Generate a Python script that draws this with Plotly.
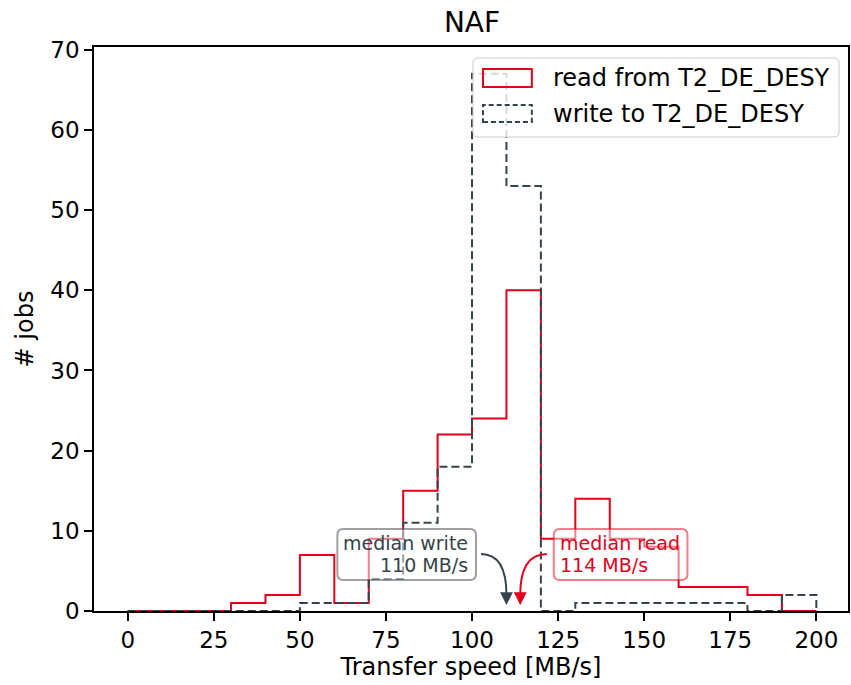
import plotly.graph_objects as go

# ---- data ----
bin_edges = [0, 10, 20, 30, 40, 50, 60, 70, 80, 90, 100, 110, 120, 130, 140, 150, 160, 170, 180, 190, 200]
read_counts = [0, 0, 0, 1, 2, 7, 1, 9, 15, 22, 24, 40, 9, 14, 9, 8, 3, 3, 2, 0]
write_counts = [0, 0, 0, 0, 0, 1, 1, 4, 11, 18, 67, 53, 0, 1, 1, 1, 1, 1, 0, 2]
median_read = 114
median_write = 110
read_label = "read from T2_DE_DESY"
write_label = "write to T2_DE_DESY"
x_ticks = [0, 25, 50, 75, 100, 125, 150, 175, 200]
y_ticks = [0, 10, 20, 30, 40, 50, 60, 70]

RED = "#e2001a"
DARK = "#37434b"
FONT = "DejaVu Sans"

W, H = 851, 685
ML, MR, MT, MB = 94, 1, 47, 74
PW, PH = W - ML - MR, H - MT - MB
XR = [-9.8, 209.2]
YR = [0, 70.35]


def step_xy(edges, counts):
    xs = [edges[0]] + edges[:-1] + [edges[-1]]
    ys = [0] + counts + [0]
    return xs, ys


def px2paper(x, y):
    return (x - ML) / PW, (H - MB - y) / PH


def px2data(x, y):
    return XR[0] + (x - ML) / PW * (XR[1] - XR[0]), YR[0] + (H - MB - y) / PH * (YR[1] - YR[0])


def round_rect(l, t, r, b, rad):
    def P(x, y):
        px, py = px2paper(x, y)
        return f"{px:.5f},{py:.5f}"
    return (f"M {P(l+rad,t)} L {P(r-rad,t)} Q {P(r,t)} {P(r,t+rad)} L {P(r,b-rad)} Q {P(r,b)} {P(r-rad,b)} "
            f"L {P(l+rad,b)} Q {P(l,b)} {P(l,b-rad)} L {P(l,t+rad)} Q {P(l,t)} {P(l+rad,t)} Z")


fig = go.Figure()
rx, ry = step_xy(bin_edges, read_counts)
wx, wy = step_xy(bin_edges, write_counts)
fig.add_trace(go.Scatter(x=rx, y=ry, mode="lines", line=dict(color=RED, width=2, shape="hv"),
                         name=read_label, showlegend=False))
fig.add_trace(go.Scatter(x=wx, y=wy, mode="lines", line=dict(color=DARK, width=2, shape="hv", dash="8px,4px"),
                         name=write_label, showlegend=False))

shapes = []
annotations = []

# legend
shapes.append(dict(type="path", xref="paper", yref="paper", path=round_rect(474, 58, 841, 137, 5),
                   fillcolor="rgba(255,255,255,0.8)", line=dict(color="#cccccc", width=1), layer="above"))
for (t, b, col, dash, label) in [(69, 87, RED, "solid", read_label), (105, 122, DARK, "5px,3px", write_label)]:
    x0, y0 = px2paper(484, b)
    x1, y1 = px2paper(533, t)
    shapes.append(dict(type="rect", xref="paper", yref="paper", x0=x0, y0=y0, x1=x1, y1=y1,
                       line=dict(color=col, width=2, dash=dash), fillcolor="rgba(0,0,0,0)", layer="above"))
    tx, ty = px2paper(552, (t + b) / 2)
    annotations.append(dict(xref="paper", yref="paper", x=tx, y=ty, text=label, showarrow=False,
                            xanchor="left", yanchor="middle", font=dict(family=FONT, size=24, color="#000000")))

# median annotation boxes
shapes.append(dict(type="path", xref="paper", yref="paper", path=round_rect(338, 529, 477, 580, 6),
                   fillcolor="rgba(255,255,255,0.5)", line=dict(color="rgba(55,67,75,0.5)", width=2), layer="above"))
shapes.append(dict(type="path", xref="paper", yref="paper", path=round_rect(555, 529, 689, 580, 6),
                   fillcolor="rgba(255,255,255,0.5)", line=dict(color="rgba(226,0,26,0.5)", width=2), layer="above"))

for text, xpx, ypx, anchor, col in [
    ("median write", 471, 543, "right", DARK),
    (f"{median_write} MB/s", 471, 565, "right", DARK),
    ("median read", 559, 543, "left", RED),
    (f"{median_read} MB/s", 559, 565, "left", RED),
]:
    tx, ty = px2paper(xpx, ypx)
    annotations.append(dict(xref="paper", yref="paper", x=tx, y=ty, text=text, showarrow=False,
                            xanchor=anchor, yanchor="middle", font=dict(family=FONT, size=19, color=col)))

# curved connectors + arrow heads
tip_y = px2data(0, 605)[1]
end_y = px2data(0, 595)[1]
for med, start_px, col in [(median_write, 482, DARK), (median_read, 548, RED)]:
    sx, sy = px2data(start_px, 554)
    shapes.append(dict(type="path", xref="x", yref="y",
                       path=f"M {sx:.4f},{sy:.4f} Q {med},{sy:.4f} {med},{end_y:.4f}",
                       line=dict(color=col, width=2), layer="above"))
    annotations.append(dict(xref="x", yref="y", x=med, y=tip_y, ax=0, ay=-11, text="",
                            showarrow=True, arrowhead=2, arrowsize=1.6, arrowwidth=1.6, arrowcolor=col,
                            standoff=0, startstandoff=0))

fig.update_layout(
    width=W, height=H,
    margin=dict(l=ML, r=MR, t=MT, b=MB),
    paper_bgcolor="white", plot_bgcolor="white",
    title=dict(text="NAF", x=(ML + PW / 2) / W, xanchor="center", y=1 - 22 / H, yanchor="middle",
               font=dict(family=FONT, size=28, color="#000000")),
    font=dict(family=FONT, color="#000000"),
    showlegend=False,
    shapes=shapes,
    annotations=annotations,
)
fig.update_xaxes(range=XR, tickvals=x_ticks, ticktext=[str(v) for v in x_ticks],
                 ticks="outside", ticklen=8, tickwidth=1.5, tickcolor="#000000",
                 showline=True, linecolor="#000000", linewidth=1.5, mirror=True,
                 showgrid=False, zeroline=False, tickfont=dict(family=FONT, size=23),
                 title=dict(text="Transfer speed [MB/s]", font=dict(family=FONT, size=24), standoff=6))
fig.update_yaxes(range=YR, tickvals=y_ticks, ticktext=[str(v) for v in y_ticks],
                 ticks="outside", ticklen=8, tickwidth=1.5, tickcolor="#000000",
                 showline=True, linecolor="#000000", linewidth=1.5, mirror=True,
                 showgrid=False, zeroline=False, tickfont=dict(family=FONT, size=23),
                 title=dict(text="# jobs", font=dict(family=FONT, size=24), standoff=10))

fig.write_html("out.html", config={"displayModeBar": False},
               post_script="document.body.style.margin='0';document.body.style.overflow='hidden';")
